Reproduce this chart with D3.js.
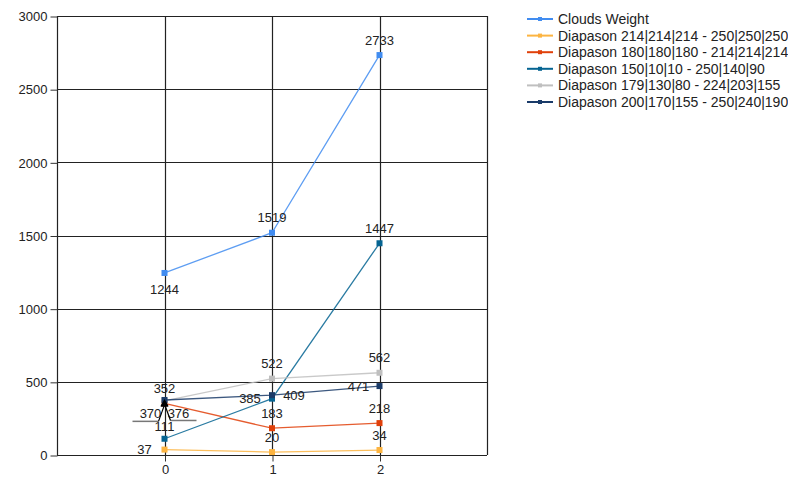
<!DOCTYPE html>
<html>
<head>
<meta charset="utf-8">
<script src="https://cdn.jsdelivr.net/npm/d3@7"></script>
<style>
  body { margin: 0; background: #fff; }
  text { font-family: "Liberation Sans", Arial, sans-serif; }
</style>
</head>
<body>
<svg width="788" height="482"></svg>
<script>

// categories and values
var categories = [0, 1, 2];
var seriesNames = [
  "Clouds Weight",
  "Diapason 214|214|214 - 250|250|250",
  "Diapason 180|180|180 - 214|214|214",
  "Diapason 150|10|10 - 250|140|90",
  "Diapason 179|130|80 - 224|203|155",
  "Diapason 200|170|155 - 250|240|190"
];
var cloudsWeight = [1244, 1519, 2733];
var diapason214 = [37, 20, 34];
var diapason180 = [352, 183, 218];
var diapason150 = [111, 385, 1447];
var diapason179 = [370, 522, 562];
var diapason200 = [376, 409, 471];
var yTicks = [0, 500, 1000, 1500, 2000, 2500, 3000];

var colors = ["#418CF0", "#FCB441", "#E0400A", "#056492", "#BFBFBF", "#1A3B69"];

// where each value label sits relative to its point (dx, dy)
var labelPos = [
  [[0, 16], [0, -15], [0, -15]],
  [[-20, 0], [0, -15], [0, -15]],
  [[0, -15], [0, -15], [0, -15]],
  [[0, -12], [-22, 0], [0, -15]],
  ["callL", [0, -15], [0, -15]],
  ["callR", [22, 0], [-21, 0]]
];

var allSeries = [cloudsWeight, diapason214, diapason180, diapason150, diapason179, diapason200];

var svg = d3.select("svg");

var x = d3.scaleLinear().domain([-1, 3]).range([57, 487]);
var y = d3.scaleLinear().domain([0, 3000]).range([455, 16]);

// gridlines
svg.append("g")
  .selectAll("line")
  .data(yTicks)
  .enter().append("line")
  .attr("x1", x(-1)).attr("x2", x(3))
  .attr("y1", d => Math.round(y(d)) + 0.5).attr("y2", d => Math.round(y(d)) + 0.5)
  .attr("stroke", "#222").attr("stroke-width", 1.2);

svg.append("g")
  .selectAll("line")
  .data([-1, 0, 1, 2, 3])
  .enter().append("line")
  .attr("x1", d => Math.round(x(d)) + 0.5).attr("x2", d => Math.round(x(d)) + 0.5)
  .attr("y1", y(3000)).attr("y2", y(0))
  .attr("stroke", "#222").attr("stroke-width", 1.2);

// axes
var yAxis = d3.axisLeft(y).tickValues(yTicks).tickSize(7).tickPadding(3).tickFormat(d3.format("d"));
var gy = svg.append("g").attr("transform", "translate(" + (x(-1) + 0.5) + ",0.5)").call(yAxis);
gy.select(".domain").remove();
gy.selectAll("line").attr("stroke", "#333");
gy.selectAll("text").attr("font-size", 13).attr("fill", "#222");

var xAxis = d3.axisBottom(x).tickValues(categories).tickSize(6).tickPadding(3).tickFormat(d3.format("d"));
var gx = svg.append("g").attr("transform", "translate(0.5," + (y(0) + 0.5) + ")").call(xAxis);
gx.select(".domain").remove();
gx.selectAll("line").attr("stroke", "#333");
gx.selectAll("text").attr("font-size", 13).attr("fill", "#222");

var line = d3.line()
  .x(function(d, i) { return x(categories[i]); })
  .y(function(d) { return y(d); });

var series = svg.append("g")
  .selectAll(".series")
  .data(allSeries)
  .enter().append("g")
  .attr("class", "series");

series.append("path")
  .attr("d", d => line(d))
  .attr("fill", "none")
  .attr("stroke", (d, i) => colors[i])
  .attr("stroke-opacity", 0.85)
  .attr("stroke-width", 1.3);

series.each(function(vals, si) {
  d3.select(this).selectAll("rect")
    .data(vals)
    .enter().append("rect")
    .attr("x", (d, i) => x(categories[i]) - 3)
    .attr("y", d => y(d) - 3)
    .attr("width", 6).attr("height", 6)
    .attr("fill", colors[si]);
});

// value labels
var labels = svg.append("g");
allSeries.forEach(function(vals, si) {
  vals.forEach(function(v, i) {
    var px = x(categories[i]), py = y(v);
    var p = labelPos[si][i];
    if (p === "callL" || p === "callR") {
      var left = p === "callL";
      var lx = left ? px - 14 : px + 14;
      var ly = py + 13;
      labels.append("text")
        .attr("x", lx).attr("y", ly)
        .attr("text-anchor", "middle").attr("dy", ".35em")
        .attr("font-size", 13).attr("fill", "#222")
        .text(v);
      var ux0 = left ? px - 32 : px + 6, ux1 = left ? px - 6 : px + 32;
      labels.append("line")
        .attr("x1", ux0).attr("x2", ux1).attr("y1", ly + 7.5).attr("y2", ly + 7.5)
        .attr("stroke", "#777").attr("stroke-width", 1.5);
      var cx = left ? ux1 : ux0;
      labels.append("line")
        .attr("x1", cx).attr("y1", ly + 7.5).attr("x2", px).attr("y2", py + 4)
        .attr("stroke", "#000").attr("stroke-width", 1.2);
      labels.append("path")
        .attr("d", "M" + px + "," + (py - 1) + "l-4,7l8,0z")
        .attr("fill", "#000");
    } else {
      labels.append("text")
        .attr("x", px + p[0]).attr("y", py + p[1])
        .attr("text-anchor", "middle").attr("dy", ".35em")
        .attr("font-size", 13).attr("fill", "#222")
        .text(v);
    }
  });
});

// legend
var legend = svg.append("g")
  .selectAll(".legend")
  .data(seriesNames)
  .enter().append("g")
  .attr("class", "legend")
  .attr("transform", (d, i) => "translate(527," + (19 + i * 16.6) + ")");

legend.append("line")
  .attr("x1", 0).attr("x2", 26)
  .attr("stroke", (d, i) => colors[i]).attr("stroke-width", 2);
legend.append("rect")
  .attr("x", 11).attr("y", -2).attr("width", 4).attr("height", 4)
  .attr("fill", (d, i) => colors[i]);
legend.append("text")
  .attr("x", 31).attr("dy", ".35em")
  .attr("font-size", 14).attr("fill", "#222")
  .text(d => d);

</script>
</body>
</html>
